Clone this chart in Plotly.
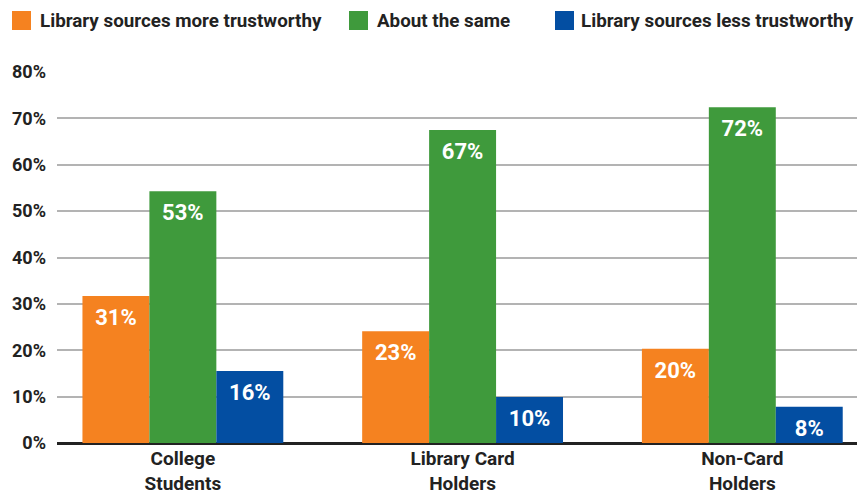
import plotly.graph_objects as go

categories = ["College<br>Students", "Library Card<br>Holders", "Non-Card<br>Holders"]
series_names = ["Library sources more trustworthy", "About the same", "Library sources less trustworthy"]
more_trustworthy = [31.7, 24.1, 20.3]
about_same = [54.3, 67.5, 72.4]
less_trustworthy = [15.5, 9.9, 7.8]
more_labels = ["31%", "23%", "20%"]
same_labels = ["53%", "67%", "72%"]
less_labels = ["16%", "10%", "8%"]
tick_values = [0, 10, 20, 30, 40, 50, 60, 70, 80]
tick_labels = ["0%", "10%", "20%", "30%", "40%", "50%", "60%", "70%", "80%"]

colors = ["#F58220", "#3F9A3C", "#034EA2"]
FONT = "Roboto"
W, H = 857, 493
ML, MR, MT, MB = 57, 0, 72, 50

fig = go.Figure()
for name, vals, col in zip(series_names,
                           [more_trustworthy, about_same, less_trustworthy], colors):
    fig.add_trace(go.Bar(
        x=categories, y=vals, name=name, marker=dict(color=col, line=dict(width=0)),
        hoverinfo="skip", showlegend=False,
    ))
# value labels, grouped like the bars, placed just under each bar top
for name, vals, labels in zip(series_names,
                              [more_trustworthy, about_same, less_trustworthy],
                              [more_labels, same_labels, less_labels]):
    fig.add_trace(go.Scatter(
        x=categories, y=vals, mode="markers+text", text=labels, textposition="bottom center",
        marker=dict(size=18, color="rgba(0,0,0,0)"),
        textfont=dict(family=FONT, size=22, color="white", weight="bold"),
        hoverinfo="skip", showlegend=False, name=name,
    ))

# custom legend row (swatch + label) in pixel-derived paper coordinates
legend_swatch_px = [12, 349, 555]
legend_text_px = [39, 376, 580]
pw = W - ML - MR
ph = H - MT - MB
def px_x(px):
    return (px - ML) / pw
def px_y(py):
    return (H - MB - py) / ph

for name, col, sx, tx in zip(series_names, colors, legend_swatch_px, legend_text_px):
    fig.add_shape(type="rect", xref="paper", yref="paper",
                  x0=px_x(sx), x1=px_x(sx + 19), y0=px_y(30), y1=px_y(11),
                  fillcolor=col, line=dict(width=0))
    fig.add_annotation(xref="paper", yref="paper", x=px_x(tx), y=px_y(20.5),
                       xanchor="left", yanchor="middle", showarrow=False, borderpad=0,
                       text=name, font=dict(family=FONT, size=18.8, color="#222222", weight="bold"))

fig.update_layout(
    width=W, height=H,
    margin=dict(l=ML, r=MR, t=MT, b=MB, autoexpand=False),
    paper_bgcolor="white", plot_bgcolor="white",
    barmode="group", bargap=0.282, bargroupgap=0,
    scattermode="group", scattergap=0.282,
    font=dict(family=FONT, color="#222222"),
    showlegend=False,
    xaxis=dict(range=[-0.45, 2.41], showgrid=False, showline=False, ticks="",
               automargin=False, ticklabelstandoff=2,
               tickfont=dict(family=FONT, size=19, color="#222222", weight="bold")),
    yaxis=dict(range=[0, 80], tickvals=tick_values, ticktext=tick_labels,
               showgrid=True, gridcolor="#b3b3b3", gridwidth=1.5,
               zeroline=True, zerolinecolor="#222222", zerolinewidth=2.5,
               showline=False, ticks="", ticklabelstandoff=10, automargin=False,
               tickfont=dict(family=FONT, size=18, color="#222222", weight="bold")),
)

fig.write_html("out.html", config={"displayModeBar": False},
               post_script="document.body.style.margin='0';document.body.style.padding='0';")
